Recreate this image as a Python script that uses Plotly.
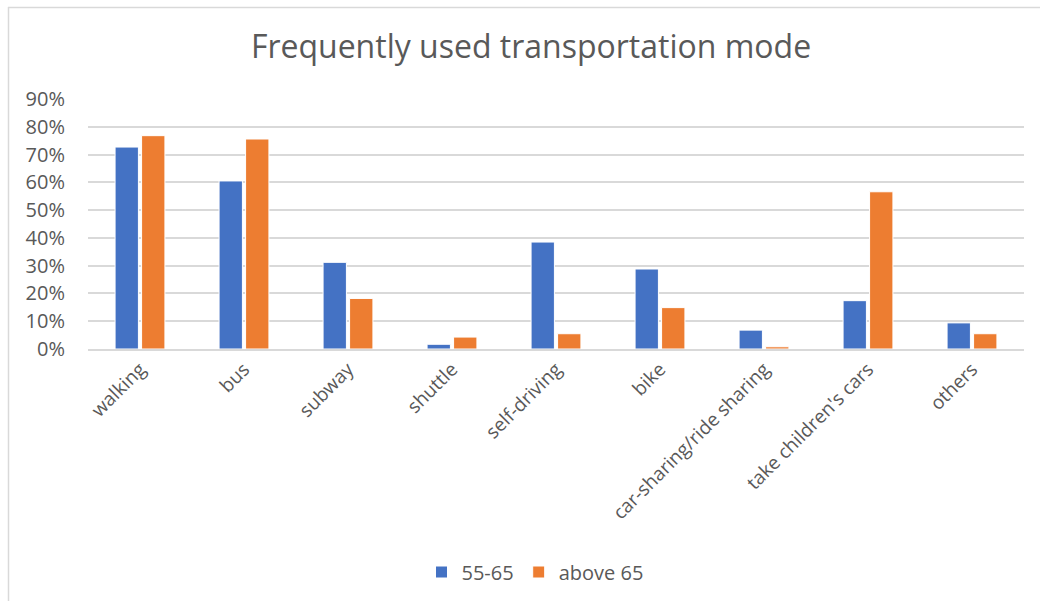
import plotly.graph_objects as go

categories = ["walking", "bus", "subway", "shuttle", "self-driving", "bike",
              "car-sharing/ride sharing", "take children's cars", "others"]
series_55_65 = [0.727, 0.605, 0.312, 0.017, 0.385, 0.288, 0.068, 0.174, 0.094]
series_above_65 = [0.768, 0.756, 0.182, 0.043, 0.055, 0.149, 0.008, 0.566, 0.055]
y_ticks = [0, 0.1, 0.2, 0.3, 0.4, 0.5, 0.6, 0.7, 0.8, 0.9]
y_tick_labels = ["0%", "10%", "20%", "30%", "40%", "50%", "60%", "70%", "80%", "90%"]

FONT = "Open Sans"
TXT = "#595959"
GRID = "#D9D9D9"

fig = go.Figure()
fig.add_trace(go.Bar(name="55-65", x=categories, y=series_55_65,
                     marker=dict(color="#4472C4", line=dict(color="white", width=1))))
fig.add_trace(go.Bar(name="above 65", x=categories, y=series_above_65,
                     marker=dict(color="#ED7D31", line=dict(color="white", width=1))))

L, R, T, B = 88, 16, 99, 252
W, H = 1040, 601
pw, ph = W - L - R, H - T - B

def px_x(x):
    return (x - L) / pw

def px_y(y):
    return (H - B - y) / ph

fig.update_layout(
    width=W, height=H,
    margin=dict(l=L, r=R, t=T, b=B, autoexpand=False),
    paper_bgcolor="white", plot_bgcolor="white",
    font=dict(family=FONT, color=TXT),
    title=dict(text="Frequently used transportation mode", x=531 / W, xanchor="center",
               y=1 - 47 / H, yanchor="middle", font=dict(size=32, color=TXT, family=FONT)),
    barmode="group", bargap=0.49, bargroupgap=0.12,
    showlegend=True,
    legend=dict(orientation="h", x=px_x(535), xanchor="center", y=px_y(572), yanchor="middle",
                font=dict(size=20, color=TXT, family=FONT), itemwidth=30,
                traceorder="normal"),
    xaxis=dict(tickangle=-45, tickfont=dict(size=19, color=TXT, family=FONT),
               showline=True, linecolor=GRID, linewidth=1.5, showgrid=False,
               ticks="", fixedrange=True),
    yaxis=dict(range=[0, 0.9], tickvals=y_ticks, ticktext=y_tick_labels,
               tickfont=dict(size=20, color=TXT, family=FONT),
               showgrid=True, gridcolor=GRID, gridwidth=1.5, zeroline=False,
               showline=False, ticks="outside", ticklen=18, tickcolor="rgba(0,0,0,0)"),
    shapes=[
        dict(type="line", xref="paper", yref="paper", x0=px_x(8), x1=px_x(1040),
             y0=px_y(7.5), y1=px_y(7.5), line=dict(color=GRID, width=1.5)),
        dict(type="line", xref="paper", yref="paper", x0=px_x(8.5), x1=px_x(8.5),
             y0=px_y(7), y1=px_y(601), line=dict(color=GRID, width=1.5)),
    ],
)

fig.write_html("out.html")
